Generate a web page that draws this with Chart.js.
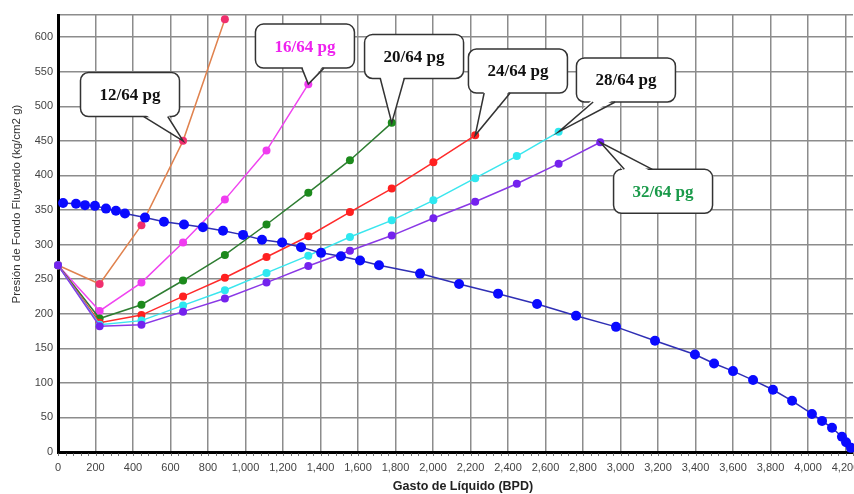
<!DOCTYPE html>
<html>
<head>
<meta charset="utf-8">
<script src="https://cdn.jsdelivr.net/npm/chart.js@4.4.1/dist/chart.umd.min.js"></script>
<style>
  html, body { margin: 0; padding: 0; background: #ffffff; overflow: hidden; }
  #wrap { position: relative; width: 870px; height: 494px; }
</style>
</head>
<body>
<div id="wrap"><canvas id="c"></canvas></div>
<script>
// ---------- data ----------
const chokeRates = [0, 222, 445, 667, 890, 1112, 1335, 1557, 1780, 2002, 2225, 2447, 2670, 2892];
const choke12 = [270, 243, 328, 450, 626];
const choke16 = [270, 204, 245, 303, 365, 436, 532];
const choke20 = [270, 193, 213, 248, 285, 329, 375, 422, 476];
const choke24 = [270, 187, 198, 225, 252, 282, 312, 347, 381, 419, 458];
const choke28 = [270, 184, 190, 212, 234, 259, 284, 311, 335, 364, 396, 428, 463];
const choke32 = [270, 182, 184, 203, 222, 245, 269, 291, 313, 338, 362, 388, 417, 448];

const iprRates = [27, 96, 144, 197, 256, 309, 357, 464, 565, 672, 773, 880, 987, 1088, 1195, 1296, 1403, 1509, 1611, 1712, 1931, 2139, 2347, 2555, 2763, 2976, 3184, 3397, 3499, 3600, 3707, 3813, 3915, 4021, 4075, 4128, 4181, 4203, 4229];
const iprPress = [360, 359, 357, 356, 352, 349, 345, 339, 333, 329, 325, 320, 314, 307, 303, 296, 288, 283, 277, 270, 258, 243, 229, 214, 197, 181, 161, 141, 128, 117, 104, 90, 74, 55, 45, 35, 22, 14, 6];

const chokeLabels = ['12/64 pg', '16/64 pg', '20/64 pg', '24/64 pg', '28/64 pg', '32/64 pg'];
const xTickValues = [0, 200, 400, 600, 800, 1000, 1200, 1400, 1600, 1800, 2000, 2200, 2400, 2600, 2800, 3000, 3200, 3400, 3600, 3800, 4000, 4200];
const yTickValues = [0, 50, 100, 150, 200, 250, 300, 350, 400, 450, 500, 550, 600];
const xMax = 4240;
const yMax = 632;

// ---------- build ----------
function pts(xs, ys) { return ys.map((y, i) => ({ x: xs[i], y: y })); }

const chokeSeries = [choke12, choke16, choke20, choke24, choke28, choke32];
const lineColors  = ['#e0824e', '#f044f0', '#2e7d32', '#ff2a2a', '#3ae6ee', '#8a38e6'];
const pointColors = ['#f0306e', '#f03cf0', '#1c8a1c', '#ff2020', '#2ee8f0', '#7422ee'];

const datasets = [{
  label: 'IPR',
  data: pts(iprRates, iprPress),
  showLine: true,
  borderColor: '#2f2fb4',
  borderWidth: 1.5,
  backgroundColor: '#0a0aff',
  pointBackgroundColor: '#0a0aff',
  pointBorderColor: '#0a0aff',
  pointRadius: 5,
  pointBorderWidth: 0,
  clip: 10,
  order: 0
}];
chokeSeries.forEach((s, i) => {
  datasets.push({
    label: chokeLabels[i],
    data: pts(chokeRates, s),
    showLine: true,
    borderColor: lineColors[i],
    borderWidth: 1.5,
    backgroundColor: pointColors[i],
    pointBackgroundColor: pointColors[i],
    pointBorderColor: pointColors[i],
    pointRadius: 4,
    pointBorderWidth: 0,
    clip: 10,
    order: 6 - i
  });
});

// callouts: anchored to a data point, box centre in data units
const callouts = [
  { series: 1, point: 3,  text: '12/64 pg', color: '#111111', cx: 384,  cy: 517, tailAt: 0.76, tailW: 24 },
  { series: 2, point: 6,  text: '16/64 pg', color: '#ee22ee', cx: 1317, cy: 587, tailAt: 0.58, tailW: 22 },
  { series: 3, point: 8,  text: '20/64 pg', color: '#111111', cx: 1899, cy: 572, tailAt: 0.28, tailW: 24 },
  { series: 4, point: 10, text: '24/64 pg', color: '#111111', cx: 2453, cy: 551, tailAt: 0.29, tailW: 26 },
  { series: 5, point: 12, text: '28/64 pg', color: '#111111', cx: 3029, cy: 538, tailAt: 0.28, tailW: 22 },
  { series: 6, point: 13, text: '32/64 pg', color: '#1a9a4a', cx: 3227, cy: 377, tailAt: 0.25, tailW: 28 }
];

const calloutPlugin = {
  id: 'callouts',
  afterDatasetsDraw(chart) {
    const ctx = chart.ctx;
    const xs = chart.scales.x, ys = chart.scales.y;
    const W = 99, H = 44, R = 8;
    callouts.forEach(c => {
      const p = chart.data.datasets[c.series].data[c.point];
      const ax = xs.getPixelForValue(p.x), ay = ys.getPixelForValue(p.y);
      const bx = xs.getPixelForValue(c.cx), by = ys.getPixelForValue(c.cy);
      const left = bx - W / 2, top = by - H / 2, bottom = top + H;
      ctx.save();
      ctx.lineWidth = 1.5;
      ctx.strokeStyle = '#333333';
      ctx.fillStyle = '#ffffff';
      ctx.beginPath();
      ctx.roundRect(left, top, W, H, R);
      ctx.fill();
      ctx.stroke();
      const below = ay > bottom;
      const edgeY = below ? bottom : top;
      const inside = below ? -3 : 3;
      const baseX = left + W * c.tailAt;
      const hw = c.tailW / 2;
      ctx.beginPath();
      ctx.moveTo(baseX - hw, edgeY + inside);
      ctx.lineTo(ax, ay);
      ctx.lineTo(baseX + hw, edgeY + inside);
      ctx.closePath();
      ctx.fill();
      ctx.beginPath();
      ctx.moveTo(baseX - hw, edgeY);
      ctx.lineTo(ax, ay);
      ctx.lineTo(baseX + hw, edgeY);
      ctx.stroke();
      ctx.fillStyle = c.color;
      ctx.font = 'bold 17px "Liberation Serif", "Times New Roman", serif';
      ctx.textAlign = 'center';
      ctx.textBaseline = 'middle';
      ctx.fillText(c.text, bx, by + 1);
      ctx.restore();
    });
  }
};

const axisDecor = {
  id: 'axisDecor',
  afterDraw(chart) {
    const ctx = chart.ctx;
    const xs = chart.scales.x;
    const area = chart.chartArea;
    ctx.save();
    // minor ticks under the x axis
    ctx.strokeStyle = '#777777';
    ctx.lineWidth = 1;
    for (let v = 0; v <= xMax; v += 40) {
      const px = Math.round(xs.getPixelForValue(v)) + 0.5;
      ctx.beginPath();
      ctx.moveTo(px, area.bottom + 1.5);
      ctx.lineTo(px, area.bottom + 4);
      ctx.stroke();
    }
    // axis titles
    ctx.fillStyle = '#333333';
    ctx.font = '11.5px "Liberation Sans", Arial, sans-serif';
    ctx.textAlign = 'center';
    ctx.textBaseline = 'middle';
    ctx.translate(17, 204);
    ctx.rotate(-Math.PI / 2);
    ctx.fillText('Presión de Fondo Fluyendo (kg/cm2 g)', 0, 0);
    ctx.restore();
    ctx.save();
    ctx.fillStyle = '#222222';
    ctx.font = 'bold 12.5px "Liberation Sans", Arial, sans-serif';
    ctx.textAlign = 'center';
    ctx.textBaseline = 'middle';
    ctx.fillText('Gasto de Líquido (BPD)', 463, 487);
    ctx.restore();
  }
};

Chart.defaults.font.family = '"Liberation Sans", Arial, sans-serif';

new Chart(document.getElementById('c'), {
  type: 'scatter',
  data: { datasets: datasets },
  options: {
    responsive: true,
    maintainAspectRatio: false,
    animation: false,
    layout: { padding: { top: 15, right: 17, left: 0, bottom: 0 } },
    plugins: { legend: { display: false }, tooltip: { enabled: false } },
    scales: {
      x: {
        type: 'linear',
        min: 0,
        max: xMax,
        afterBuildTicks: s => { s.ticks = xTickValues.map(v => ({ value: v })); },
        afterFit: s => { s.height = 42; },
        border: { display: true, color: '#000000', width: 3 },
        grid: { color: '#8c8c8c', lineWidth: 1.5, drawTicks: false },
        ticks: {
          padding: 9,
          color: '#444444',
          font: { size: 11 },
          maxRotation: 0,
          autoSkip: false,
          callback: v => v.toLocaleString('en-US')
        }
      },
      y: {
        type: 'linear',
        min: 0,
        max: yMax,
        afterBuildTicks: s => { s.ticks = yTickValues.concat([yMax]).map(v => ({ value: v })); },
        afterFit: s => { s.width = 58; },
        border: { display: true, color: '#000000', width: 3 },
        grid: { color: '#8c8c8c', lineWidth: 1.5, drawTicks: false },
        ticks: {
          padding: 5,
          color: '#444444',
          font: { size: 11 },
          autoSkip: false,
          callback: v => (v === yMax ? '' : String(v))
        }
      }
    }
  },
  plugins: [calloutPlugin, axisDecor]
});
</script>
</body>
</html>
